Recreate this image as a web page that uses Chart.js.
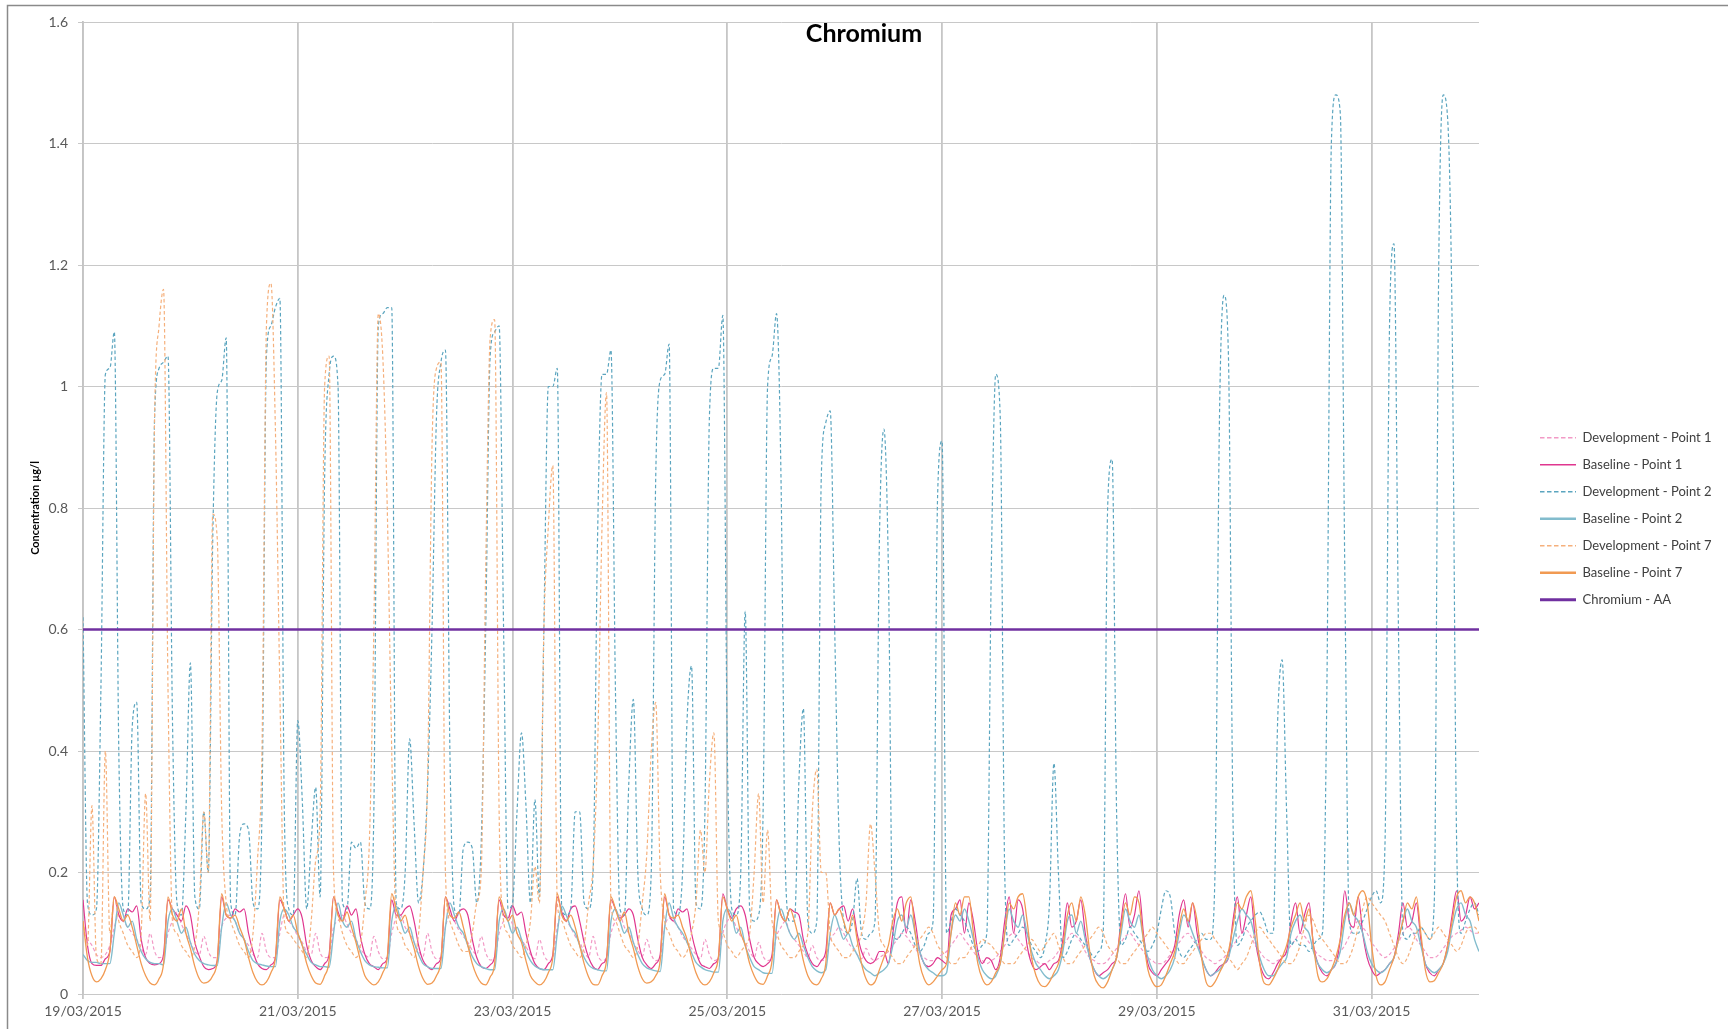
<!DOCTYPE html>
<html>
<head>
<meta charset="utf-8">
<title>Chromium</title>
<script src="https://cdn.jsdelivr.net/npm/chart.js@4.4.1/dist/chart.umd.min.js"></script>
<style>
html,body{margin:0;padding:0;background:#fff;}
#wrap{position:relative;width:1728px;height:1029px;overflow:hidden;}
canvas{display:block;}
</style>
</head>
<body>
<div id="wrap"><canvas id="c" width="1728" height="1029"></canvas></div>
<script>
// ---------- DATA (hourly readings from 19/03/2015 00:00, hour 0 .. 312) ----------
const chartTitle = 'Chromium';
const yAxisTitle = 'Concentration µg/l';
const tickLabels = ['19/03/2015','21/03/2015','23/03/2015','25/03/2015','27/03/2015','29/03/2015','31/03/2015'];
const seriesNames = ['Development - Point 1','Baseline - Point 1','Development - Point 2','Baseline - Point 2','Development - Point 7','Baseline - Point 7','Chromium - AA'];

const dev1 = [
 0.1,0.09,0.08,0.065,0.06,0.065,0.08,
 0.11,0.13,0.12,0.11,0.1,0.09,0.075,0.065,0.1,0.07,0.06,0.065,
 0.1,0.12,0.135,0.115,0.1,0.085,0.07,0.065,0.095,0.07,0.06,0.06,
 0.11,0.125,0.13,0.12,0.1,0.09,0.08,0.065,0.06,0.1,0.07,0.06,0.06,
 0.1,0.13,0.12,0.11,0.095,0.085,0.07,0.065,0.1,0.068,0.06,0.062,
 0.11,0.12,0.13,0.115,0.1,0.09,0.075,0.065,0.06,0.095,0.07,0.058,0.06,
 0.1,0.125,0.13,0.11,0.1,0.085,0.07,0.062,0.1,0.07,0.058,0.06,
 0.11,0.13,0.12,0.105,0.095,0.085,0.072,0.065,0.095,0.068,0.056,0.058,
 0.1,0.12,0.13,0.115,0.1,0.09,0.078,0.065,0.058,0.09,0.065,0.055,0.058,
 0.11,0.13,0.12,0.11,0.095,0.085,0.07,0.06,0.095,0.065,0.055,0.06,
 0.1,0.12,0.13,0.11,0.1,0.085,0.072,0.062,0.09,0.065,0.055,0.058,
 0.11,0.125,0.12,0.11,0.095,0.085,0.075,0.065,0.058,0.09,0.065,0.055,0.06,
 0.1,0.12,0.125,0.11,0.095,0.085,0.07,0.06,0.085,0.062,0.055,0.06,
 0.095,0.11,0.12,0.1,0.09,0.08,0.07,0.06,0.08,0.06,0.055,0.06,
 0.09,0.1,0.11,0.1,0.085,0.075,0.065,0.058,0.075,0.06,0.055,0.06,
 0.065,0.07,0.08,0.09,0.1,0.095,0.085,0.075,0.065,0.06,0.055,0.055,
 0.06,0.065,0.07,0.08,0.09,0.1,0.09,0.08,0.07,0.06,0.055,0.05,
 0.055,0.06,0.07,0.08,0.095,0.1,0.09,0.08,0.07,0.06,0.055,0.05,
 0.05,0.055,0.06,0.07,0.08,0.09,0.1,0.095,0.085,0.07,0.06,0.055,
 0.05,0.05,0.055,0.065,0.075,0.085,0.095,0.1,0.09,0.08,0.07,0.06,
 0.055,0.05,0.05,0.055,0.065,0.075,0.085,0.095,0.1,0.09,0.08,0.07,
 0.06,0.055,0.05,0.055,0.06,0.07,0.08,0.09,0.1,0.105,0.095,0.08,
 0.07,0.06,0.055,0.05,0.055,0.06,0.07,0.08,0.09,0.1,0.095,0.085,
 0.075,0.065,0.06,0.055,0.055,0.06,0.07,0.08,0.095,0.11,0.12,0.11,
 0.1,0.085,0.075,0.065,0.06,0.065,0.075,0.085,0.1,0.11,0.105,0.09,
 0.08,0.07,0.06,0.06,0.065,0.075,0.085,0.095,0.1,0.105,0.11,0.105,
 0.1,0.1
];

const base1 = [
 0.155,0.08,0.05,0.047,0.047,0.058,0.07,
 0.16,0.13,0.12,0.14,0.135,0.145,0.09,0.06,0.05,0.048,0.05,0.065,
 0.155,0.14,0.13,0.12,0.145,0.13,0.085,0.062,0.045,0.04,0.042,0.055,
 0.16,0.13,0.125,0.14,0.135,0.14,0.1,0.07,0.05,0.042,0.04,0.048,0.06,
 0.155,0.14,0.12,0.13,0.14,0.125,0.08,0.055,0.045,0.04,0.05,0.065,
 0.16,0.135,0.12,0.145,0.13,0.14,0.095,0.065,0.05,0.045,0.04,0.05,0.06,
 0.155,0.13,0.13,0.14,0.145,0.12,0.08,0.055,0.045,0.04,0.05,0.06,
 0.16,0.14,0.12,0.135,0.14,0.13,0.09,0.06,0.045,0.042,0.048,0.062,
 0.155,0.13,0.125,0.145,0.13,0.135,0.1,0.07,0.05,0.042,0.04,0.05,0.065,
 0.16,0.135,0.12,0.14,0.145,0.12,0.085,0.06,0.045,0.04,0.05,0.06,
 0.155,0.14,0.125,0.13,0.14,0.13,0.09,0.06,0.048,0.042,0.05,0.065,
 0.16,0.13,0.12,0.14,0.135,0.14,0.1,0.07,0.05,0.045,0.042,0.05,0.06,
 0.165,0.14,0.125,0.14,0.145,0.13,0.09,0.06,0.05,0.045,0.05,0.065,
 0.155,0.13,0.12,0.14,0.135,0.13,0.09,0.065,0.05,0.045,0.055,0.07,
 0.15,0.13,0.14,0.145,0.12,0.14,0.1,0.07,0.055,0.05,0.055,0.07,
 0.07,0.05,0.1,0.15,0.16,0.1,0.155,0.12,0.07,0.05,0.045,0.05,
 0.06,0.055,0.05,0.13,0.14,0.155,0.1,0.15,0.12,0.07,0.05,0.06,
 0.055,0.04,0.06,0.12,0.16,0.1,0.155,0.14,0.08,0.05,0.04,0.045,
 0.05,0.04,0.05,0.055,0.09,0.15,0.11,0.12,0.155,0.1,0.06,0.04,
 0.03,0.035,0.04,0.05,0.06,0.12,0.165,0.11,0.13,0.17,0.1,0.05,
 0.035,0.03,0.04,0.05,0.06,0.08,0.13,0.155,0.11,0.15,0.1,0.06,
 0.04,0.03,0.035,0.045,0.05,0.06,0.12,0.16,0.1,0.13,0.16,0.09,
 0.05,0.03,0.025,0.035,0.05,0.06,0.07,0.12,0.15,0.1,0.13,0.15,
 0.08,0.05,0.035,0.03,0.04,0.05,0.09,0.17,0.12,0.11,0.16,0.1,
 0.06,0.04,0.03,0.035,0.04,0.05,0.06,0.1,0.15,0.11,0.12,0.15,
 0.09,0.05,0.035,0.03,0.04,0.05,0.08,0.13,0.17,0.12,0.13,0.16,
 0.14,0.15
];

const dev2 = [
 0.62,0.15,0.13,0.14,0.5,1.02,1.03,1.09,0.4,0.14,0.13,0.44,
 0.48,0.15,0.14,0.16,0.95,1.03,1.04,1.05,0.45,0.15,0.13,0.3,
 0.545,0.16,0.14,0.3,0.2,0.75,0.99,1.01,1.08,0.15,0.13,0.26,
 0.28,0.27,0.15,0.14,0.3,1.05,1.1,1.13,1.145,0.3,0.14,0.13,
 0.45,0.32,0.14,0.25,0.34,0.16,0.85,1.02,1.05,1.0,0.15,0.14,
 0.25,0.24,0.25,0.15,0.14,0.3,1.1,1.12,1.13,1.13,0.15,0.14,
 0.2,0.42,0.28,0.15,0.2,0.34,0.6,0.95,1.04,1.06,0.4,0.14,
 0.13,0.24,0.25,0.24,0.15,0.25,0.6,1.05,1.09,1.1,0.6,0.14,
 0.15,0.3,0.43,0.31,0.15,0.32,0.16,0.6,1.0,1.0,1.03,0.14,
 0.13,0.14,0.3,0.3,0.15,0.14,0.2,0.75,1.02,1.02,1.06,0.5,
 0.14,0.13,0.35,0.485,0.2,0.14,0.13,0.2,0.85,1.01,1.02,1.07,
 0.14,0.13,0.2,0.45,0.54,0.15,0.14,0.3,0.95,1.03,1.03,1.117,
 0.4,0.14,0.13,0.2,0.63,0.14,0.12,0.13,0.3,1.0,1.05,1.12,
 0.85,0.2,0.12,0.12,0.35,0.47,0.12,0.1,0.12,0.85,0.94,0.96,
 0.6,0.25,0.12,0.1,0.12,0.19,0.1,0.09,0.1,0.12,0.75,0.93,
 0.7,0.1,0.09,0.1,0.11,0.1,0.08,0.07,0.08,0.1,0.12,0.82,
 0.91,0.1,0.12,0.14,0.13,0.12,0.1,0.08,0.07,0.08,0.1,0.7,
 1.02,0.95,0.2,0.08,0.09,0.1,0.11,0.1,0.08,0.07,0.06,0.08,
 0.15,0.38,0.2,0.06,0.07,0.09,0.1,0.09,0.08,0.07,0.06,0.07,
 0.1,0.8,0.88,0.3,0.08,0.09,0.11,0.1,0.09,0.08,0.07,0.08,
 0.1,0.14,0.17,0.16,0.1,0.07,0.06,0.07,0.08,0.09,0.1,0.09,
 0.09,0.2,0.95,1.15,1.05,0.3,0.08,0.09,0.11,0.12,0.13,0.135,
 0.12,0.1,0.1,0.45,0.55,0.3,0.08,0.09,0.08,0.08,0.07,0.08,
 0.09,0.1,0.5,1.4,1.48,1.45,0.7,0.12,0.1,0.1,0.12,0.14,
 0.16,0.17,0.15,0.25,1.1,1.235,0.6,0.1,0.09,0.1,0.1,0.11,
 0.1,0.09,0.15,1.2,1.48,1.44,1.1,0.25,0.1,0.12,0.14,0.15,
 0.13
];

const base2 = [
 0.065,0.055,0.052,0.052,0.05,0.05,0.05,
 0.1,0.15,0.13,0.11,0.12,0.09,0.07,0.058,0.052,0.05,0.05,0.048,
 0.12,0.14,0.12,0.1,0.11,0.085,0.065,0.055,0.05,0.048,0.047,0.047,
 0.11,0.15,0.13,0.12,0.1,0.09,0.07,0.055,0.05,0.048,0.046,0.045,0.045,
 0.12,0.14,0.13,0.11,0.1,0.08,0.065,0.052,0.048,0.045,0.045,0.044,
 0.1,0.15,0.12,0.11,0.12,0.09,0.07,0.055,0.048,0.045,0.044,0.043,0.043,
 0.12,0.145,0.12,0.1,0.11,0.085,0.065,0.05,0.045,0.042,0.042,0.042,
 0.11,0.15,0.13,0.11,0.1,0.08,0.062,0.05,0.045,0.042,0.04,0.04,
 0.12,0.14,0.12,0.1,0.11,0.09,0.07,0.055,0.046,0.042,0.04,0.04,0.04,
 0.1,0.145,0.13,0.11,0.1,0.08,0.06,0.048,0.042,0.04,0.038,0.038,
 0.12,0.14,0.12,0.1,0.11,0.085,0.065,0.05,0.043,0.04,0.038,0.037,
 0.11,0.15,0.125,0.11,0.1,0.085,0.068,0.052,0.045,0.04,0.038,0.036,0.036,
 0.12,0.14,0.13,0.1,0.11,0.08,0.06,0.045,0.04,0.035,0.034,0.034,
 0.11,0.14,0.12,0.1,0.09,0.1,0.08,0.06,0.045,0.038,0.035,0.04,
 0.1,0.13,0.11,0.09,0.1,0.08,0.065,0.05,0.04,0.035,0.03,0.035,
 0.04,0.05,0.08,0.12,0.13,0.11,0.13,0.1,0.07,0.05,0.04,0.035,
 0.03,0.03,0.035,0.1,0.13,0.12,0.14,0.12,0.09,0.06,0.04,0.03,
 0.025,0.03,0.05,0.1,0.14,0.12,0.11,0.13,0.1,0.07,0.05,0.04,
 0.03,0.025,0.03,0.04,0.07,0.12,0.13,0.1,0.12,0.09,0.06,0.04,
 0.03,0.025,0.03,0.04,0.06,0.1,0.14,0.12,0.11,0.13,0.09,0.06,
 0.04,0.03,0.025,0.03,0.04,0.06,0.1,0.13,0.12,0.1,0.08,0.06,
 0.04,0.03,0.035,0.04,0.05,0.06,0.09,0.12,0.14,0.13,0.12,0.09,
 0.06,0.04,0.03,0.03,0.04,0.05,0.06,0.1,0.12,0.13,0.11,0.1,
 0.07,0.05,0.04,0.035,0.04,0.05,0.07,0.12,0.15,0.13,0.12,0.1,
 0.07,0.05,0.04,0.035,0.04,0.05,0.06,0.09,0.12,0.14,0.12,0.11,
 0.08,0.05,0.04,0.035,0.04,0.05,0.07,0.11,0.14,0.15,0.13,0.12,
 0.09,0.07
];

const dev7 = [
 0.12,0.08,0.31,0.06,0.05,0.4,0.1,0.16,0.12,0.1,0.08,0.07,
 0.06,0.1,0.33,0.12,0.95,1.1,1.16,0.5,0.12,0.1,0.08,0.07,
 0.06,0.08,0.15,0.3,0.2,0.79,0.75,0.3,0.15,0.12,0.1,0.08,
 0.07,0.06,0.1,0.22,0.4,1.1,1.17,0.93,0.5,0.12,0.1,0.09,
 0.08,0.07,0.06,0.12,0.22,0.3,1.0,1.05,0.2,0.13,0.1,0.08,
 0.07,0.06,0.08,0.15,0.25,0.6,1.12,1.05,0.8,0.4,0.12,0.1,
 0.08,0.07,0.06,0.1,0.2,0.35,0.9,1.03,1.04,0.2,0.12,0.1,
 0.08,0.07,0.07,0.1,0.15,0.2,0.7,1.08,1.11,0.3,0.12,0.1,
 0.08,0.07,0.06,0.08,0.12,0.21,0.15,0.6,0.77,0.87,0.15,0.12,
 0.1,0.08,0.07,0.06,0.08,0.15,0.21,0.4,0.77,0.99,0.15,0.12,
 0.1,0.08,0.07,0.06,0.08,0.15,0.23,0.4,0.48,0.2,0.12,0.1,
 0.08,0.07,0.06,0.07,0.1,0.15,0.27,0.2,0.35,0.43,0.12,0.1,
 0.08,0.07,0.06,0.07,0.08,0.1,0.2,0.33,0.15,0.27,0.12,0.1,
 0.08,0.07,0.06,0.06,0.07,0.08,0.1,0.3,0.37,0.2,0.2,0.1,
 0.08,0.07,0.06,0.06,0.07,0.08,0.1,0.15,0.28,0.2,0.1,0.08,
 0.07,0.06,0.05,0.05,0.06,0.07,0.08,0.09,0.1,0.11,0.1,0.08,
 0.07,0.06,0.05,0.05,0.06,0.06,0.07,0.08,0.08,0.09,0.085,0.08,
 0.07,0.06,0.05,0.05,0.05,0.06,0.07,0.08,0.09,0.08,0.07,0.08,
 0.09,0.1,0.08,0.06,0.05,0.05,0.06,0.07,0.08,0.09,0.1,0.11,
 0.1,0.08,0.07,0.06,0.05,0.05,0.06,0.07,0.08,0.09,0.1,0.11,
 0.1,0.09,0.08,0.07,0.06,0.05,0.05,0.06,0.07,0.08,0.09,0.1,
 0.1,0.09,0.08,0.07,0.06,0.05,0.04,0.05,0.06,0.08,0.1,0.11,
 0.1,0.09,0.08,0.07,0.06,0.05,0.05,0.06,0.08,0.11,0.13,0.12,
 0.1,0.09,0.08,0.07,0.06,0.05,0.05,0.06,0.08,0.11,0.14,0.16,
 0.15,0.14,0.13,0.12,0.1,0.08,0.06,0.05,0.06,0.08,0.1,0.11,
 0.1,0.09,0.1,0.11,0.1,0.09,0.08,0.07,0.08,0.1,0.11,0.11,
 0.1
];

const base7 = [
 0.12,0.06,0.03,0.02,0.025,0.04,0.07,
 0.16,0.14,0.12,0.13,0.11,0.08,0.05,0.03,0.018,0.015,0.025,0.05,
 0.16,0.13,0.12,0.14,0.1,0.075,0.045,0.025,0.018,0.02,0.03,0.055,
 0.165,0.13,0.125,0.13,0.11,0.09,0.06,0.035,0.02,0.015,0.02,0.035,0.06,
 0.16,0.14,0.12,0.13,0.1,0.08,0.05,0.03,0.018,0.016,0.03,0.055,
 0.16,0.13,0.12,0.135,0.11,0.085,0.055,0.03,0.02,0.015,0.02,0.035,0.06,
 0.165,0.14,0.12,0.13,0.1,0.075,0.045,0.025,0.016,0.018,0.03,0.055,
 0.16,0.13,0.125,0.135,0.11,0.08,0.05,0.03,0.018,0.015,0.028,0.05,
 0.16,0.14,0.12,0.13,0.1,0.085,0.055,0.03,0.02,0.015,0.02,0.035,0.06,
 0.165,0.13,0.12,0.13,0.11,0.08,0.05,0.028,0.016,0.015,0.03,0.055,
 0.16,0.14,0.12,0.135,0.1,0.075,0.045,0.025,0.018,0.02,0.03,0.055,
 0.165,0.13,0.125,0.13,0.11,0.09,0.06,0.035,0.02,0.015,0.02,0.035,0.06,
 0.16,0.14,0.12,0.13,0.1,0.08,0.05,0.03,0.018,0.016,0.03,0.055,
 0.155,0.13,0.12,0.14,0.12,0.09,0.055,0.03,0.018,0.015,0.025,0.05,
 0.15,0.13,0.14,0.12,0.1,0.13,0.09,0.05,0.025,0.015,0.02,0.04,
 0.06,0.08,0.12,0.14,0.12,0.15,0.16,0.1,0.05,0.025,0.015,0.02,
 0.03,0.04,0.05,0.1,0.15,0.13,0.16,0.16,0.1,0.05,0.025,0.015,
 0.02,0.035,0.05,0.1,0.15,0.14,0.16,0.165,0.12,0.06,0.03,0.015,
 0.012,0.02,0.035,0.05,0.08,0.13,0.15,0.12,0.16,0.13,0.07,0.03,
 0.015,0.01,0.02,0.04,0.06,0.11,0.15,0.13,0.16,0.15,0.09,0.04,
 0.02,0.012,0.015,0.03,0.05,0.07,0.11,0.14,0.12,0.15,0.12,0.06,
 0.02,0.012,0.02,0.035,0.05,0.07,0.11,0.15,0.14,0.16,0.17,0.12,
 0.05,0.018,0.015,0.025,0.04,0.06,0.08,0.11,0.13,0.15,0.12,0.14,
 0.08,0.03,0.02,0.025,0.04,0.06,0.09,0.13,0.15,0.13,0.16,0.17,
 0.15,0.08,0.03,0.015,0.02,0.04,0.06,0.09,0.12,0.15,0.14,0.16,
 0.1,0.04,0.02,0.022,0.035,0.05,0.08,0.12,0.16,0.17,0.15,0.16,
 0.15,0.12
];

const aaHours = [0, 312];
const aaValues = [0.6, 0.6];

// ---------- BUILD ----------
function hourly(values){ return values.map((v, i) => ({x: i, y: v})); }

const colors = ['#f29ac6','#e0368f','#5ba5bf','#82bccd','#f5b07c','#f19a52','#7030a0'];
const dashes = [[3.5,2.5],[],[3.5,2.5],[],[3.5,2.5],[],[]];
const widths = [1.2,1.2,1.2,1.4,1.2,1.3,2.6];
const legendWidths = [1.6,1.6,1.6,2.6,1.6,2.6,3];
const legendDashes = [[4.5,2.5],[],[4.5,2.5],[],[4.5,2.5],[],[]];
const values = [dev1, base1, dev2, base2, dev7, base7];

const datasets = values.map((arr, k) => ({
  label: seriesNames[k],
  data: hourly(arr),
  borderColor: colors[k],
  backgroundColor: colors[k],
  borderWidth: widths[k],
  borderDash: dashes[k],
  pointRadius: 0,
  fill: false,
  cubicInterpolationMode: 'monotone',
  order: 10 - k
}));
datasets.push({
  label: seriesNames[6],
  data: aaHours.map((h, i) => ({x: h, y: aaValues[i]})),
  borderColor: colors[6],
  backgroundColor: colors[6],
  borderWidth: widths[6],
  pointRadius: 0,
  fill: false,
  order: 0
});

const framePlugin = {
  id: 'frame',
  beforeDraw(chart) {
    const c = chart.ctx;
    c.save();
    c.fillStyle = '#ffffff';
    c.fillRect(0, 0, chart.width, chart.height);
    c.strokeStyle = '#8a8a8a';
    c.lineWidth = 1.5;
    c.strokeRect(7.5, 5.5, chart.width + 40, chart.height + 40);
    c.restore();
  }
};

const legendWidthPlugin = {
  id: 'legendWidth',
  beforeLayout(chart) {
    const lg = chart.legend;
    if (lg && !lg._fixedWidth) {
      const orig = lg.fit.bind(lg);
      lg.fit = function () { orig(); this.width = 202; };
      lg._fixedWidth = true;
    }
  }
};

const font = 'Lato, "Liberation Sans", Arial, sans-serif';

new Chart(document.getElementById('c'), {
  type: 'line',
  data: { datasets },
  options: {
    responsive: false,
    animation: false,
    devicePixelRatio: 1,
    layout: { padding: { left: 0, right: 0, top: 0, bottom: 0 } },
    plugins: {
      title: {
        display: true,
        text: chartTitle,
        color: '#000000',
        font: { family: font, size: 25, weight: 'bold' },
        padding: { top: 19, bottom: -27 }
      },
      legend: {
        position: 'right',
        align: 'center',
        title: { display: true, text: ' ', font: { size: 7 }, padding: 0 },
        labels: {
          usePointStyle: true,
          pointStyle: 'line',
          pointStyleWidth: 36,
          padding: 14,
          color: '#404040',
          font: { family: font, size: 13 },
          sort: (a, b) => a.datasetIndex - b.datasetIndex,
          generateLabels: (chart) => {
            const items = Chart.defaults.plugins.legend.labels.generateLabels(chart);
            items.forEach((it) => {
              const k = it.datasetIndex;
              it.strokeStyle = colors[k];
              it.fillStyle = colors[k];
              it.lineWidth = legendWidths[k];
              it.lineDash = legendDashes[k];
              it.pointStyle = 'line';
            });
            return items;
          }
        }
      },
      tooltip: { enabled: false }
    },
    scales: {
      x: {
        type: 'linear',
        min: 0,
        max: 312,
        ticks: {
          stepSize: 48,
          autoSkip: false,
          maxRotation: 0,
          padding: 4,
          color: '#595959',
          font: { family: font, size: 14 },
          callback: (v) => (v % 48 === 0 && v / 48 < tickLabels.length) ? tickLabels[v / 48] : ''
        },
        grid: {
          color: (ctx) => (ctx.tick && ctx.tick.value % 48 === 0 && ctx.tick.value < 312) ? '#c6c6c6' : 'rgba(0,0,0,0)',
          lineWidth: 1.8,
          tickLength: 5
        },
        border: { display: false },
        afterFit: (s) => { s.height = 35; }
      },
      y: {
        min: 0,
        max: 1.6,
        ticks: {
          stepSize: 0.2,
          padding: 10,
          color: '#595959',
          font: { family: font, size: 14 },
          callback: (v) => String(Math.round(v * 10) / 10)
        },
        grid: { color: '#c8c8c8', lineWidth: 1, tickLength: 5 },
        border: { display: true, color: '#c4c4c4', width: 1.8 },
        title: {
          display: true,
          text: yAxisTitle,
          color: '#000000',
          font: { family: font, size: 11, weight: 'bold' },
          padding: { top: 28.4, bottom: 0 }
        },
        afterFit: (s) => { s.width = 83; }
      },
      gap: {
        position: 'right',
        display: true,
        ticks: { display: false },
        grid: { display: false, drawTicks: false },
        border: { display: false },
        afterFit: (s) => { s.width = 47; }
      }
    }
  },
  plugins: [framePlugin, legendWidthPlugin]
});
</script>
</body>
</html>
